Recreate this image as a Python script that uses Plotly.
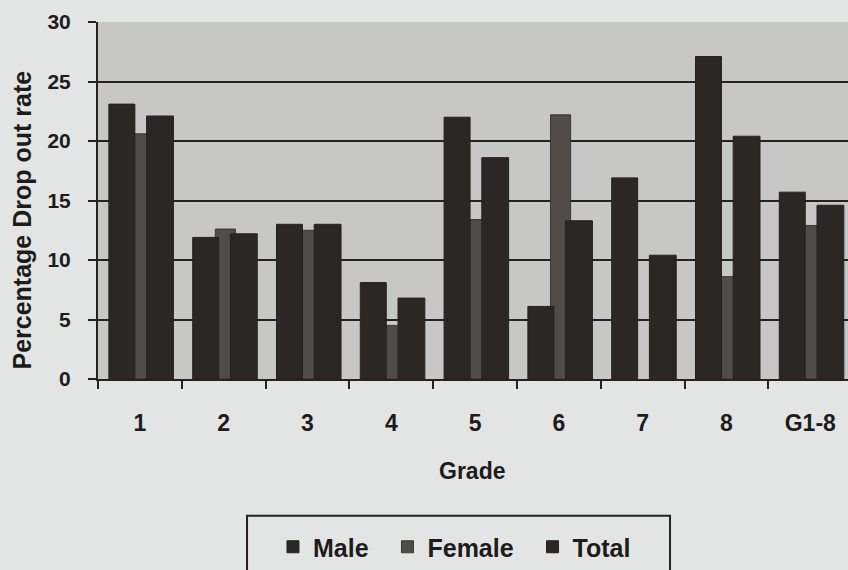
import plotly.graph_objects as go

grades = ["1", "2", "3", "4", "5", "6", "7", "8", "G1-8"]
male = [23.1, 11.9, 13.0, 8.1, 22.0, 6.1, 16.9, 27.1, 15.7]
female = [20.6, 12.6, 12.5, 4.5, 13.4, 22.2, None, 8.6, 12.9]
total = [22.1, 12.2, 13.0, 6.8, 18.6, 13.3, 10.4, 20.4, 14.6]
y_ticks = [0, 5, 10, 15, 20, 25, 30]

DARK = "#252220"
FONT = "Liberation Sans, Arial, sans-serif"
PAD = "\u00a0\u00a0"

fig = go.Figure()
fig.add_trace(go.Bar(x=grades, y=female, name="Female" + PAD, offset=-0.1, width=0.24,
                     marker=dict(color="#4f4c49", line=dict(color="#3a3836", width=1)),
                     legendrank=2))
fig.add_trace(go.Bar(x=grades, y=male, name="Male" + PAD, offset=-0.37, width=0.31,
                     marker=dict(color="#2a2725", line=dict(color=DARK, width=1)),
                     legendrank=1))
fig.add_trace(go.Bar(x=grades, y=total, name="Total", offset=0.08, width=0.32,
                     marker=dict(color="#2a2725", line=dict(color=DARK, width=1)),
                     legendrank=3))

fig.update_layout(
    width=848, height=570,
    margin=dict(l=98, r=0, t=22, b=190),
    barmode="overlay",
    paper_bgcolor="#e3e5e4",
    plot_bgcolor="#c7c7c5",
    font=dict(family=FONT, color="#1e1c1b", weight="bold"),
    showlegend=True,
    legend=dict(orientation="h", x=0.2333, xanchor="left", y=-0.472, yanchor="middle",
                bgcolor="rgba(0,0,0,0)", font=dict(size=25, family=FONT, weight="bold"),
                traceorder="normal"),
    xaxis=dict(type="category", categoryorder="array", categoryarray=grades,
               range=[-0.5, 8.45], showline=True, linecolor=DARK, linewidth=2,
               ticks="outside", tickson="boundaries", ticklen=8, tickcolor=DARK,
               tickwidth=2, ticklabelstandoff=22, showgrid=False,
               tickfont=dict(size=23, family=FONT, weight="bold")),
    yaxis=dict(range=[0, 30], tickvals=y_ticks, showline=True, linecolor=DARK,
               linewidth=2, ticks="outside", ticklen=8, tickcolor=DARK, tickwidth=2,
               ticklabelstandoff=13, showgrid=True, gridcolor=DARK, gridwidth=2,
               zeroline=False, tickfont=dict(size=21, family=FONT, weight="bold")),
    annotations=[
        dict(text="Percentage Drop out rate", xref="paper", yref="paper",
             x=-0.1013, y=0.444, xanchor="center", yanchor="middle",
             textangle=-90, showarrow=False,
             font=dict(size=25, family=FONT, weight="bold")),
        dict(text="Grade", xref="paper", yref="paper", x=0.4987, y=-0.257,
             xanchor="center", yanchor="middle",
             showarrow=False, font=dict(size=23, family=FONT, weight="bold")),
    ],
    shapes=[
        dict(type="rect", xref="paper", yref="paper", x0=0.1987, x1=0.7627,
             y0=-0.383, y1=-0.58, line=dict(color=DARK, width=2),
             fillcolor="rgba(0,0,0,0)"),
    ],
)

fig.write_html("out.html", config={"displayModeBar": False},
               post_script="document.body.style.margin='0';")
